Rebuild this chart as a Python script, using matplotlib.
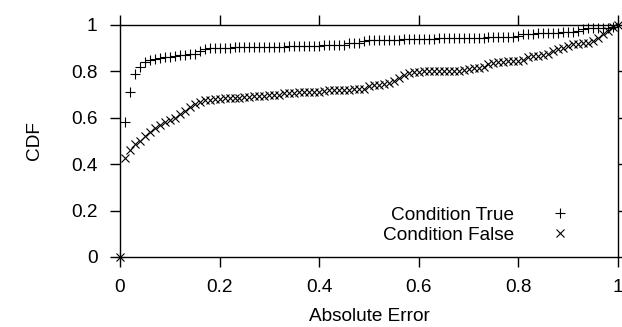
import numpy as np
import matplotlib
matplotlib.use("Agg")
import matplotlib.pyplot as plt

# 오차 임계값 (0.01 간격)
thresholds = np.round(np.arange(0, 101) / 100, 2)

cdf_true = [
    0.0, 0.58, 0.71, 0.79, 0.82, 0.84, 0.85, 0.855, 0.858, 0.861,
    0.864, 0.867, 0.869, 0.871, 0.873, 0.876, 0.89, 0.897, 0.899, 0.90,
    0.901, 0.902, 0.902, 0.903, 0.903, 0.903, 0.904, 0.904, 0.904, 0.905,
    0.905, 0.905, 0.905, 0.906, 0.909, 0.910, 0.910, 0.910, 0.911, 0.911,
    0.911, 0.912, 0.912, 0.912, 0.913, 0.913, 0.922, 0.923, 0.924, 0.933,
    0.934, 0.935, 0.935, 0.936, 0.936, 0.937, 0.937, 0.938, 0.938, 0.939,
    0.940, 0.940, 0.941, 0.941, 0.942, 0.942, 0.943, 0.943, 0.944, 0.944,
    0.945, 0.945, 0.946, 0.946, 0.947, 0.947, 0.948, 0.948, 0.949, 0.950,
    0.951, 0.962, 0.963, 0.963, 0.964, 0.965, 0.965, 0.966, 0.967, 0.968,
    0.969, 0.970, 0.975, 0.984, 0.985, 0.986, 0.987, 0.988, 0.989, 0.990,
    1.0,
]

cdf_false = [
    0.0, 0.425, 0.46, 0.485, 0.50, 0.52, 0.54, 0.555, 0.57, 0.58,
    0.59, 0.60, 0.615, 0.63, 0.645, 0.66, 0.67, 0.675, 0.677, 0.68,
    0.682, 0.684, 0.685, 0.686, 0.687, 0.688, 0.69, 0.693, 0.695, 0.696,
    0.697, 0.698, 0.70, 0.705, 0.707, 0.708, 0.709, 0.710, 0.711, 0.712,
    0.713, 0.716, 0.718, 0.719, 0.720, 0.720, 0.721, 0.722, 0.723, 0.725,
    0.735, 0.74, 0.742, 0.744, 0.748, 0.76, 0.772, 0.785, 0.795, 0.798,
    0.799, 0.80, 0.80, 0.801, 0.801, 0.802, 0.802, 0.803, 0.803, 0.808,
    0.812, 0.814, 0.815, 0.818, 0.83, 0.838, 0.84, 0.842, 0.843, 0.844,
    0.845, 0.85, 0.862, 0.866, 0.868, 0.87, 0.876, 0.89, 0.898, 0.902,
    0.908, 0.918, 0.92, 0.921, 0.922, 0.93, 0.945, 0.96, 0.975, 0.99,
    1.0,
]

x_ticks = [0, 0.2, 0.4, 0.6, 0.8, 1]
y_ticks = [0, 0.2, 0.4, 0.6, 0.8, 1]
tick_labels = ["0", "0.2", "0.4", "0.6", "0.8", "1"]

plt.rcParams["font.family"] = ["Liberation Sans", "DejaVu Sans"]
plt.rcParams["font.size"] = 13.7

fig = plt.figure(figsize=(6.22, 3.27), dpi=100)
ax = fig.add_axes([0.1929, 0.2141, 0.8006, 0.7095])

ax.plot(thresholds, cdf_true, linestyle="none", marker="+", markersize=6.8,
        markeredgewidth=0.8, color="black", clip_on=False, label="Condition True")
ax.plot(thresholds, cdf_false, linestyle="none", marker="x", markersize=6.2,
        markeredgewidth=0.8, color="black", clip_on=False, label="Condition False")

ax.set_xlim(0, 1)
ax.set_ylim(0, 1)
ax.set_xticks(x_ticks)
ax.set_xticklabels(tick_labels)
ax.set_yticks(y_ticks)
ax.set_yticklabels(tick_labels)
ax.tick_params(direction="out", length=7.2, width=1.0, pad=9,
               top=True, right=True, labeltop=False, labelright=False)
for s in ax.spines.values():
    s.set_linewidth(1.0)

ax.set_xlabel("Absolute Error", labelpad=8)
ax.set_ylabel("CDF", labelpad=20)

ax.legend(loc="lower right", bbox_to_anchor=(0.956, -0.018), frameon=False,
          markerfirst=False, numpoints=1, handlelength=2.0, handletextpad=1.4,
          labelspacing=0.15, borderpad=0.4)

plt.savefig("out.png", dpi=100)
